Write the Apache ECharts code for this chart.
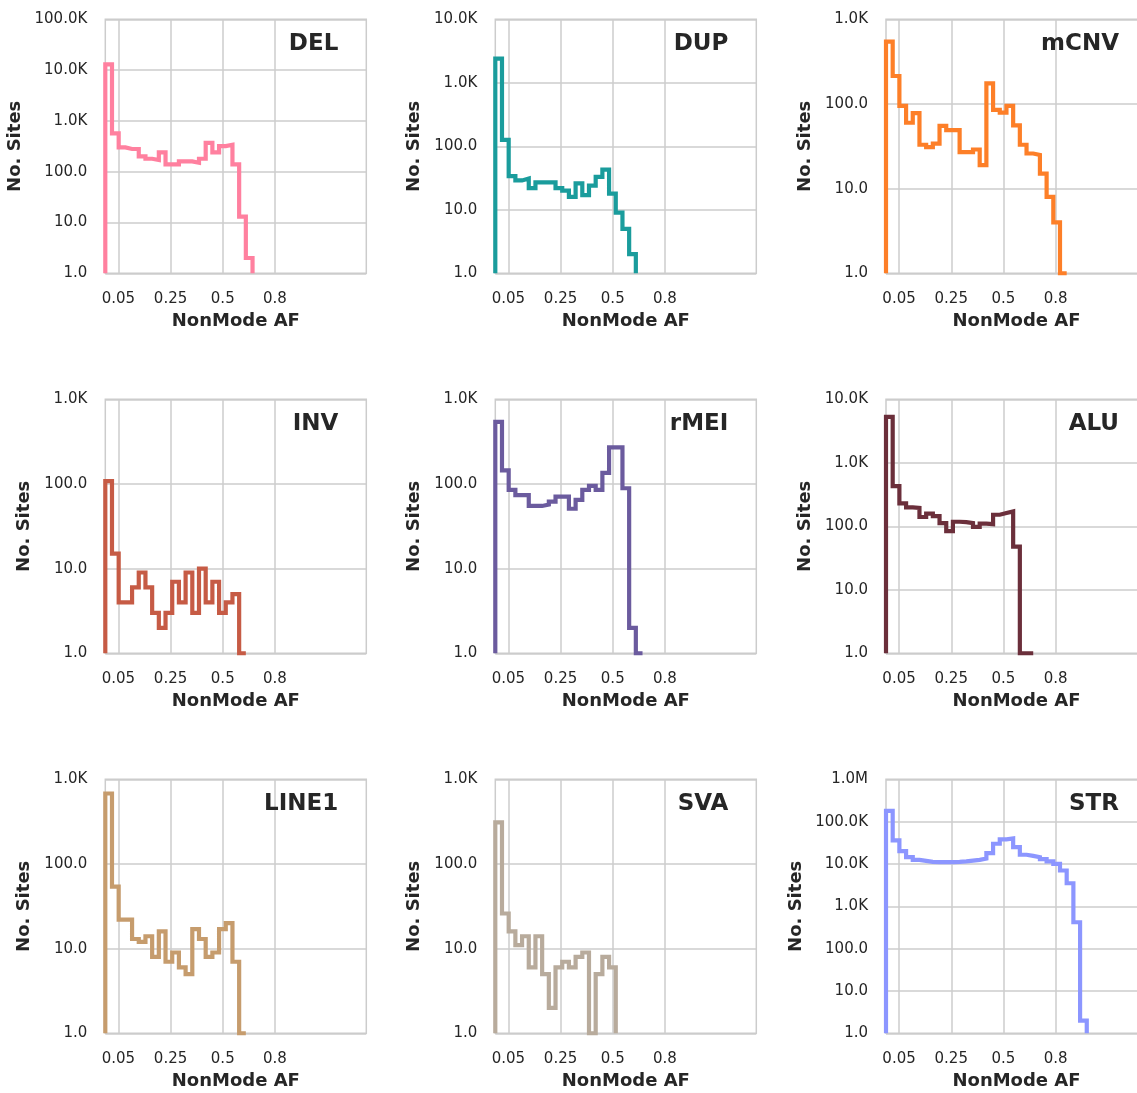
<!DOCTYPE html>
<html>
<head>
<meta charset="utf-8">
<script src="https://cdn.jsdelivr.net/npm/echarts@6/dist/echarts.min.js"></script>
<style>
html,body{margin:0;padding:0;background:#ffffff;}
#chart{width:1137px;height:1093px;}
</style>
</head>
<body>
<div id="chart"></div>
<script>
// ---- data ----
const panelNames = ['DEL', 'DUP', 'mCNV', 'INV', 'rMEI', 'ALU', 'LINE1', 'SVA', 'STR'];
const panelColors = ['#ff809f', '#1a9c9c', '#fd7f28', '#c65b45', '#6b5b9e', '#6b2f3b', '#c69c6d', '#b8ab9c', '#8c96ff'];
const yMaxValues = [1e5, 1e4, 1e3, 1e3, 1e3, 1e4, 1e3, 1e3, 1e6];
const binCount = 39;                       // histogram bins spanning NonMode AF 0..1
const xTickValues = [0.05, 0.25, 0.45, 0.65];
const xTickLabels = ['0.05', '0.25', '0.5', '0.8'];

const delCounts  = [13000, 570, 300, 280, 280, 200, 180, 170, 240, 140, 140, 160, 160, 150, 180, 370, 240, 320, 340, 140, 13, 2];
const dupCounts  = [2400, 126, 34, 29, 31, 22, 27, 27, 27, 22, 20, 16, 26, 17, 24, 33, 43, 18, 9, 5, 2];
const mcnvCounts = [545, 214, 95, 60, 78, 33, 31, 34, 55, 49, 49, 27, 27, 29, 19, 175, 85, 79, 95, 56, 33, 26, 25, 15, 8, 4, 1];
const invCounts  = [108, 15, 4, 4, 6, 9, 6, 3, 2, 3, 7, 4, 9, 3, 10, 4, 7, 3, 4, 5, 1];
const rmeiCounts = [540, 145, 85, 74, 74, 55, 55, 57, 62, 71, 71, 51, 65, 85, 95, 85, 135, 270, 270, 89, 2, 1];
const aluCounts  = [5300, 430, 230, 198, 195, 140, 158, 145, 112, 84, 118, 116, 112, 98, 110, 108, 152, 162, 172, 48, 1, 1];
const line1Counts = [680, 54, 22, 22, 13, 12, 14, 8, 16, 7, 9, 6, 5, 17, 13, 8, 9, 17, 20, 7, 1];
const svaCounts  = [310, 26, 16, 11, 14, 6, 14, 5, 2, 6, 7, 6, 8, 9, 1, 5, 8, 6];
const strCounts  = [180000, 36000, 20000, 14500, 12500, 11800, 11200, 11000, 11000, 11000, 11200, 11500, 12000, 12500, 13500, 18000, 30000, 38000, 40000, 25000, 16500, 15500, 14500, 13000, 11500, 10000, 7000, 3500, 420, 2];

const panelCounts = [delCounts, dupCounts, mcnvCounts, invCounts, rmeiCounts, aluCounts, line1Counts, svaCounts, strCounts];

// ---- layout ----
const colLeft = [105.3, 495.3, 886];
const rowTop = [19.3, 399.3, 779.3];
const plotW = 261, plotH = 254;
const canvasW = 1137;
const textColor = '#262626';
const gridColor = '#cccccc';
const FONT = 'DejaVu Sans';

function fmtY(v) {
  if (v >= 1e6) return (v / 1e6).toFixed(1) + 'M';
  if (v >= 1e3) return (v / 1e3).toFixed(1) + 'K';
  return v.toFixed(1);
}

const grids = [], xAxes = [], yAxes = [], series = [], titles = [];
panelNames.forEach((name, i) => {
  const r = Math.floor(i / 3), c = i % 3;
  const left = colLeft[c], top = rowTop[r];
  grids.push({ left: left, top: top, width: plotW, height: plotH, show: true,
    outerBoundsMode: 'none', containLabel: false,
    borderColor: gridColor, borderWidth: 1.5, backgroundColor: '#ffffff' });
  xAxes.push({
    type: 'value', gridIndex: i, min: 0, max: 1,
    name: 'NonMode AF', nameLocation: 'middle', nameGap: 39,
    nameTextStyle: { fontFamily: FONT, fontSize: 18, fontWeight: 'bold', color: textColor },
    axisLine: { show: false },
    axisTick: { show: false, customValues: xTickValues },
    axisLabel: { customValues: xTickValues, margin: 18, fontFamily: FONT, fontSize: 15, color: textColor,
      formatter: (v) => { const k = xTickValues.findIndex(t => Math.abs(t - v) < 1e-9); return k >= 0 ? xTickLabels[k] : ''; } },
    splitLine: { show: true, lineStyle: { color: gridColor, width: 1.5 } }
  });
  const wide = yMaxValues[i] >= 1e5;
  yAxes.push({
    type: 'log', logBase: 10, gridIndex: i, min: 1, max: yMaxValues[i],
    name: 'No. Sites', nameLocation: 'middle', nameGap: wide ? 81 : 72,
    nameTextStyle: { fontFamily: FONT, fontSize: 18, fontWeight: 'bold', color: textColor },
    axisLine: { show: false },
    axisTick: { show: false },
    axisLabel: { margin: 18, fontFamily: FONT, fontSize: 15, color: textColor, formatter: fmtY },
    splitLine: { show: true, lineStyle: { color: gridColor, width: 1.5 } }
  });
  const counts = panelCounts[i];
  const pts = [[0, 1]];
  counts.forEach((v, k) => pts.push([k / binCount, v]));
  pts.push([counts.length / binCount, 1]);
  series.push({
    type: 'line', xAxisIndex: i, yAxisIndex: i, step: 'end', data: pts,
    symbol: 'none', showSymbol: false, clip: true, silent: true,
    lineStyle: { color: panelColors[i], width: 4.2, join: 'miter', cap: 'butt' }
  });
  titles.push({
    text: name, right: canvasW - (left + plotW - 28), top: top + 13.5, padding: 0,
    textStyle: { fontFamily: FONT, fontSize: 23, fontWeight: 'bold', color: textColor }
  });
});

const chart = echarts.init(document.getElementById('chart'), null, { renderer: 'canvas' });
chart.setOption({
  animation: false,
  backgroundColor: '#ffffff',
  title: titles,
  grid: grids,
  xAxis: xAxes,
  yAxis: yAxes,
  series: series
});
</script>
</body>
</html>
